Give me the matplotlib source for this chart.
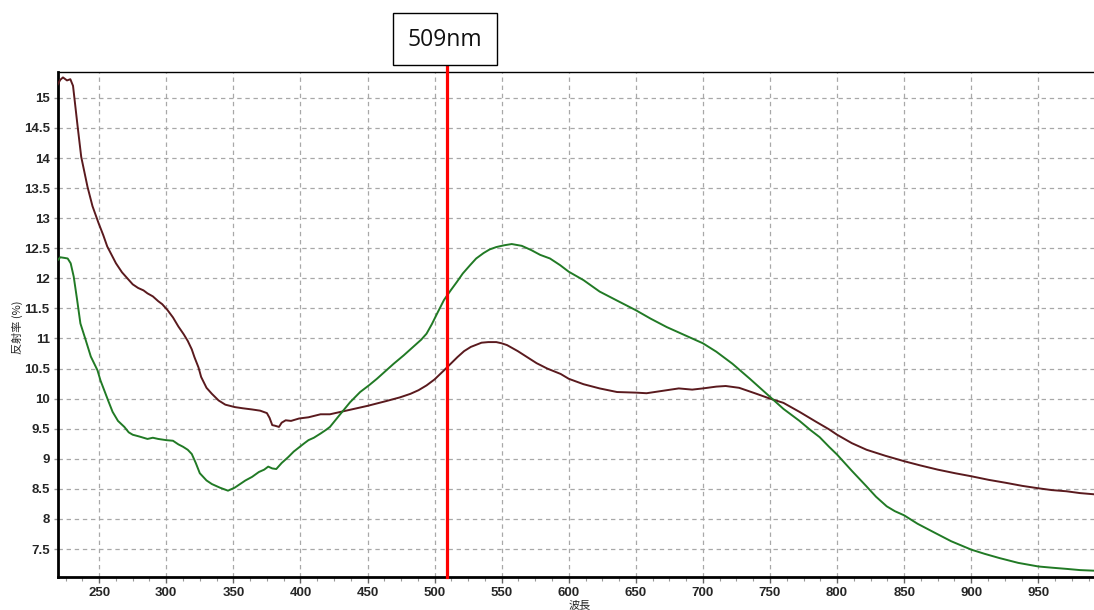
import matplotlib
matplotlib.use("Agg")
import matplotlib.pyplot as plt
from matplotlib.patches import Rectangle
from matplotlib.ticker import MultipleLocator, FuncFormatter

# ---- data ----
wl_brown = [219, 221, 223, 226, 228.5, 230.5, 233.8, 236.6, 241.3, 245,
            249.5, 253, 256, 262.5, 267, 271, 275, 279, 283, 286,
            290, 294, 297, 301, 305, 309, 313, 316, 319, 321,
            324, 326, 330, 334, 339, 344, 351, 357, 364, 370,
            375, 377, 379, 381, 384, 386, 389, 393, 399, 406,
            415, 422, 430, 440, 450, 464, 474, 482, 488, 494,
            500, 507, 512, 517, 522, 527, 535, 540, 546, 550,
            554, 562, 569, 576, 584, 594, 600, 611, 623, 636,
            650, 658, 670, 682, 692, 700, 710, 717, 727, 740,
            750, 760, 772, 784, 794, 800, 811, 822, 836, 850,
            862, 875, 888, 900, 913, 926, 938, 950, 960, 971,
            981, 991.5]
refl_brown = [15.22, 15.30, 15.34, 15.29, 15.31, 15.20, 14.55, 14.02, 13.52, 13.20,
              12.92, 12.72, 12.53, 12.25, 12.10, 12.00, 11.90, 11.84, 11.80, 11.75,
              11.70, 11.62, 11.57, 11.47, 11.35, 11.20, 11.07, 10.96, 10.82, 10.69,
              10.52, 10.36, 10.18, 10.08, 9.97, 9.90, 9.86, 9.84, 9.82, 9.80,
              9.76, 9.68, 9.56, 9.55, 9.53, 9.60, 9.64, 9.63, 9.67, 9.69,
              9.74, 9.74, 9.78, 9.83, 9.88, 9.96, 10.02, 10.08, 10.14, 10.22,
              10.32, 10.47, 10.58, 10.69, 10.79, 10.86, 10.93, 10.94, 10.94, 10.92,
              10.89, 10.79, 10.69, 10.59, 10.50, 10.41, 10.33, 10.24, 10.17, 10.11,
              10.10, 10.09, 10.13, 10.17, 10.15, 10.17, 10.20, 10.21, 10.18, 10.08,
              10.00, 9.93, 9.78, 9.62, 9.49, 9.40, 9.26, 9.15, 9.05, 8.96,
              8.89, 8.82, 8.76, 8.71, 8.65, 8.60, 8.55, 8.51, 8.48, 8.46,
              8.43, 8.41]

wl_green = [219, 221, 224, 226.5, 228.75, 231, 233.5, 236, 240, 243.75,
            248.75, 251, 253.75, 257, 260, 264, 268.75, 272, 275, 280,
            286, 290, 294, 300, 305, 309, 312.5, 316, 319, 322,
            325, 330, 334, 340, 346, 351, 355, 359, 364, 369,
            373, 376, 379, 382, 386, 391, 395, 399, 403, 406,
            410, 415, 419, 422, 426, 430, 437, 444.5, 451, 457,
            463, 469.5, 477, 484, 490, 494, 498, 502, 507, 512,
            516.6, 521, 526.5, 531, 536.5, 541, 546, 552, 557.5, 565,
            572, 578.7, 586, 593.5, 600, 611, 623, 636, 650, 661,
            673, 686, 700, 710, 722, 735, 750, 760, 772, 780,
            787, 794, 800, 811, 822, 829, 837, 843, 850, 860,
            872, 885, 900, 910, 921, 935, 950, 960, 971, 981,
            991.5]
refl_green = [12.30, 12.35, 12.34, 12.33, 12.25, 12.03, 11.65, 11.25, 10.97, 10.70,
              10.47, 10.30, 10.14, 9.95, 9.78, 9.63, 9.53, 9.44, 9.40, 9.37,
              9.33, 9.35, 9.33, 9.31, 9.30, 9.24, 9.20, 9.15, 9.08, 8.93,
              8.76, 8.64, 8.58, 8.52, 8.47, 8.52, 8.58, 8.64, 8.70, 8.78,
              8.82, 8.87, 8.84, 8.83, 8.93, 9.03, 9.12, 9.19, 9.26, 9.31,
              9.35, 9.42, 9.48, 9.53, 9.64, 9.75, 9.94, 10.11, 10.22, 10.33,
              10.45, 10.58, 10.72, 10.86, 10.98, 11.08, 11.24, 11.42, 11.64, 11.80,
              11.94, 12.08, 12.22, 12.33, 12.42, 12.48, 12.52, 12.55, 12.57, 12.54,
              12.47, 12.39, 12.33, 12.22, 12.11, 11.97, 11.78, 11.63, 11.47, 11.33,
              11.19, 11.06, 10.92, 10.78, 10.58, 10.33, 10.03, 9.83, 9.63, 9.48,
              9.36, 9.20, 9.07, 8.80, 8.54, 8.37, 8.21, 8.13, 8.06, 7.92,
              7.78, 7.63, 7.49, 7.42, 7.35, 7.27, 7.21, 7.19, 7.17, 7.15,
              7.14]

marker_wl = 509
marker_label = "509nm"
x_label = "波長"
y_label = "反射率 (%)"

# ---- figure ----
W, H = 1094, 610
fig = plt.figure(figsize=(W / 100, H / 100), dpi=100)
ax = fig.add_axes([58 / W, 1 - 576.7 / H, (W - 58) / W, (576.7 - 72) / H])

ax.plot(wl_brown, refl_brown, color="#5a1a1e", lw=1.4, zorder=3)
ax.plot(wl_green, refl_green, color="#217a25", lw=1.4, zorder=3)

ax.set_xlim(219.3, 991.5)
ax.set_ylim(7.04, 15.43)

ax.xaxis.set_major_locator(MultipleLocator(50))
ax.xaxis.set_minor_locator(MultipleLocator(12.5))
ax.yaxis.set_major_locator(MultipleLocator(0.5))
ax.yaxis.set_major_formatter(FuncFormatter(lambda v, p: f"{v:g}"))

ax.grid(True, which="major", color="#a8a8a8", linestyle=(0, (3.5, 3)), lw=0.9)
ax.set_axisbelow(True)

for s in ["left", "bottom"]:
    ax.spines[s].set_linewidth(2.0)
    ax.spines[s].set_color("black")
ax.spines["top"].set_linewidth(1.0)
ax.spines["right"].set_visible(False)

ax.tick_params(axis="x", which="major", length=4, width=1, pad=3.5, labelsize=9.5, color="#666")
ax.tick_params(axis="x", which="minor", length=3, width=0.8, color="#999")
ax.tick_params(axis="y", which="major", length=3, width=1, pad=3, labelsize=9.5, color="#999")
for lab in ax.get_xticklabels() + ax.get_yticklabels():
    lab.set_fontfamily("Liberation Sans")
    lab.set_fontweight("bold")
    lab.set_color("#262626")

# red marker line extending up to the label box
ax.axvline(marker_wl, ymin=0, ymax=1 + 7 / 504.7, color="#ff0000", lw=2.3,
           clip_on=False, zorder=4)

# label box
fig.add_artist(Rectangle((393 / W, 1 - 65 / H), 104 / W, 52 / H,
                         transform=fig.transFigure, facecolor="white",
                         edgecolor="black", lw=1.0))
fig.text(445 / W, 1 - 39.5 / H, marker_label, ha="center", va="center",
         fontsize=16.5, family=["Open Sans", "DejaVu Sans"], color="#111111")

fig.text(17 / W, 1 - 327 / H, y_label, rotation=90, ha="center", va="center",
         fontsize=8, family=["Noto Sans CJK JP", "DejaVu Sans"], color="#222")
fig.text(580 / W, 1 - 605 / H, x_label, ha="center", va="center",
         fontsize=8, family=["Noto Sans CJK JP", "DejaVu Sans"], color="#222")

fig.savefig("out.png", dpi=100)
